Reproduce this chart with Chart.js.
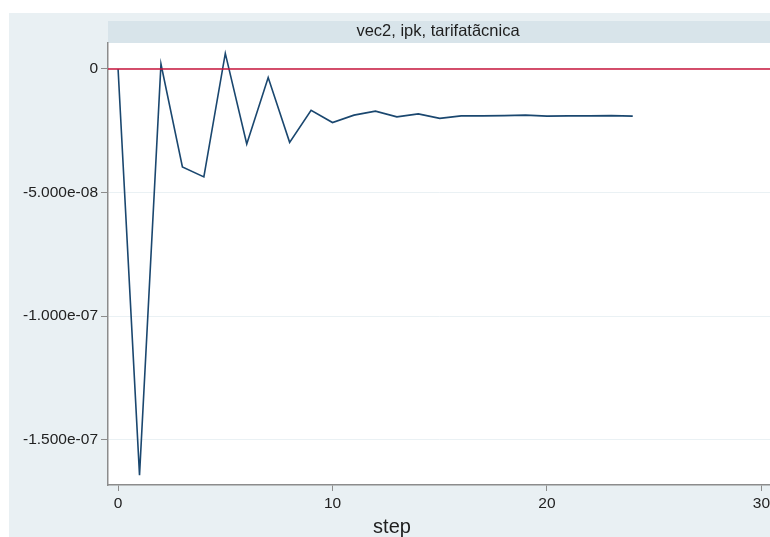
<!DOCTYPE html>
<html>
<head>
<meta charset="utf-8">
<script src="https://cdn.jsdelivr.net/npm/chart.js@4"></script>
<style>
  html, body { margin: 0; padding: 0; background: #fff; }
  #wrap { width: 770px; height: 537px; }
</style>
</head>
<body>
<div id="wrap"><canvas id="irfChart" width="770" height="537"></canvas></div>
<script>
// impulse response: vec2, impulse ipk, response tarifa
const steps = [0, 1, 2, 3, 4, 5, 6, 7, 8, 9, 10, 11, 12, 13, 14, 15, 16, 17, 18, 19, 20, 21, 22, 23, 24];
const irf = [0, -1.644e-7, 2.0e-9, -3.97e-8, -4.37e-8, 6.3e-9, -3.04e-8, -3.5e-9, -2.97e-8,
             -1.67e-8, -2.17e-8, -1.87e-8, -1.71e-8, -1.94e-8, -1.82e-8, -2.0e-8, -1.9e-8,
             -1.9e-8, -1.89e-8, -1.87e-8, -1.91e-8, -1.9e-8, -1.9e-8, -1.89e-8, -1.91e-8];

const xTicks = [0, 10, 20, 30];
const yTicks = [0, -5e-8, -1e-7, -1.5e-7];
const yTickLabels = ['0', '-5.000e-08', '-1.000e-07', '-1.500e-07'];

const xRange = [-0.47, 30.4];
const yRange = [-1.684e-7, 1.05e-8];

const panelTitle = 'vec2, ipk, tarifatãcnica';
const xTitle = 'step';

const FONT = '"Liberation Sans", Arial, sans-serif';

const backdrop = {
    id: 'backdrop',
    beforeDraw(chart) {
        const c = chart.ctx;
        const a = chart.chartArea;
        c.save();
        c.fillStyle = '#ffffff';
        c.fillRect(0, 0, chart.width, chart.height);
        c.fillStyle = '#e9f0f3';
        c.fillRect(9, 13, chart.width - 9, chart.height - 13);
        // subtitle strip over the plot
        c.fillStyle = '#d8e4ea';
        c.fillRect(a.left, 21, a.right - a.left, a.top - 21);
        c.fillStyle = '#ffffff';
        c.fillRect(a.left, a.top, a.right - a.left, a.bottom - a.top);
        c.restore();
    },
    afterDraw(chart) {
        const c = chart.ctx;
        const a = chart.chartArea;
        c.save();
        c.fillStyle = '#1e1e1e';
        c.textAlign = 'center';
        c.textBaseline = 'alphabetic';
        c.font = '16.5px ' + FONT;
        c.fillText(panelTitle, (a.left + a.right) / 2 - 1, 36);
        c.font = '20px ' + FONT;
        c.fillText(xTitle, 392, 533);
        c.restore();
    }
};

const ctx = document.getElementById('irfChart').getContext('2d');
new Chart(ctx, {
    type: 'line',
    data: {
        datasets: [
            {
                label: 'zero',
                data: xRange.map(x => ({ x: x, y: 0 })),
                borderColor: '#c8143c',
                borderWidth: 1.5,
                pointRadius: 0
            },
            {
                label: 'irf',
                data: steps.map((s, i) => ({ x: s, y: irf[i] })),
                borderColor: '#1a476f',
                borderWidth: 1.6,
                pointRadius: 0,
                tension: 0
            }
        ]
    },
    options: {
        responsive: false,
        animation: false,
        layout: { padding: { top: 43, left: 0, right: 0, bottom: 0 } },
        plugins: {
            legend: { display: false },
            tooltip: { enabled: false }
        },
        scales: {
            x: {
                type: 'linear',
                min: xRange[0],
                max: xRange[1],
                afterBuildTicks: s => { s.ticks = xTicks.map(v => ({ value: v })); },
                afterFit: s => { s.height = 52; s.paddingLeft = 0; s.paddingRight = 0; },
                border: { color: '#8c8c8c', width: 1.5 },
                grid: { drawOnChartArea: false, tickLength: 6, tickColor: '#8c8c8c' },
                ticks: { color: '#222', font: { family: FONT, size: 15.5 }, padding: 3, maxRotation: 0 }
            },
            y: {
                type: 'linear',
                min: yRange[0],
                max: yRange[1],
                afterBuildTicks: s => { s.ticks = yTicks.map(v => ({ value: v })); },
                afterFit: s => { s.width = 108; },
                border: { color: '#8c8c8c', width: 1.5 },
                grid: { color: '#eaf1f4', lineWidth: 1, tickLength: 7, tickColor: '#8c8c8c' },
                ticks: {
                    color: '#222',
                    font: { family: FONT, size: 15.5 },
                    padding: 3,
                    callback: v => {
                        const i = yTicks.findIndex(t => Math.abs(t - v) < 1e-12);
                        return i >= 0 ? yTickLabels[i] : '';
                    }
                }
            }
        }
    },
    plugins: [backdrop]
});
</script>
</body>
</html>
